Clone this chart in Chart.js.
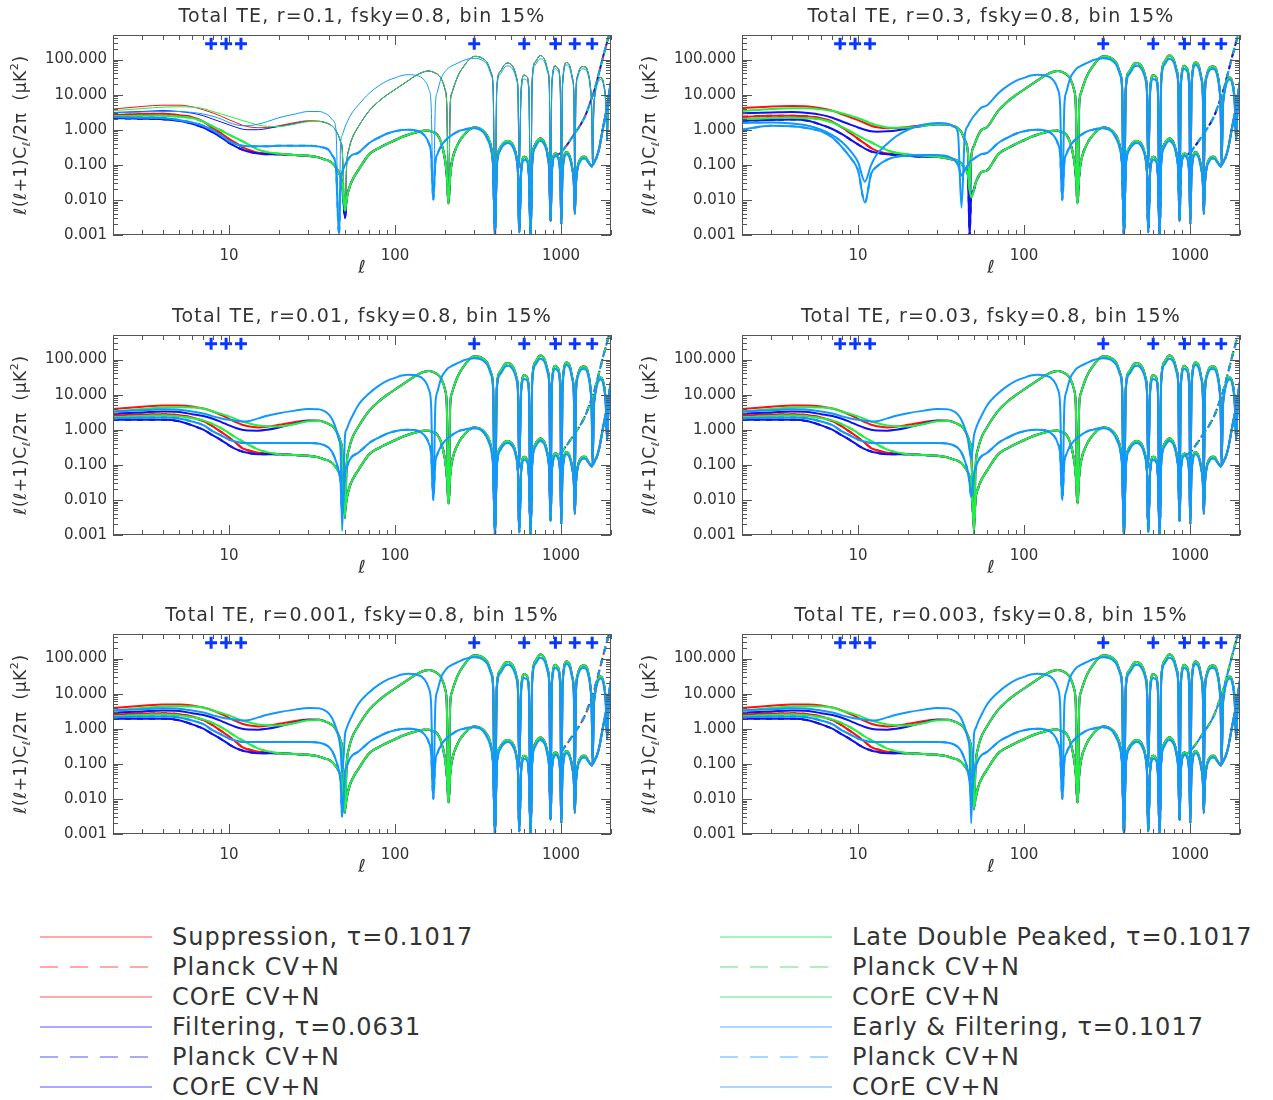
<!DOCTYPE html>
<html><head><meta charset="utf-8">
<script src="https://cdn.jsdelivr.net/npm/chart.js@4.4.1/dist/chart.umd.min.js"></script>
<style>
body{margin:0;background:#fff;width:1273px;height:1100px;position:relative;overflow:hidden;font-family:'DejaVu Sans',sans-serif;}
canvas{position:absolute;}
.lgt{position:absolute;font-size:24px;color:#333;letter-spacing:1px;line-height:30px;white-space:nowrap;}
svg{position:absolute;overflow:visible}
</style></head><body>
<script>
// ---------------- DATA ----------------
const PANEL_TITLES = [
 "Total TE, r=0.1, fsky=0.8, bin 15%",
 "Total TE, r=0.3, fsky=0.8, bin 15%",
 "Total TE, r=0.01, fsky=0.8, bin 15%",
 "Total TE, r=0.03, fsky=0.8, bin 15%",
 "Total TE, r=0.001, fsky=0.8, bin 15%",
 "Total TE, r=0.003, fsky=0.8, bin 15%"
];
const X_TICKS = [10, 100, 1000];
const X_TICK_LABELS = ["10", "100", "1000"];
const Y_TICKS = [0.001, 0.01, 0.1, 1, 10, 100];
const Y_TICK_LABELS = ["0.001", "0.010", "0.100", "1.000", "10.000", "100.000"];

// low multipoles (per panel)
const LOW_ELL = [2,3,4,5,6,7,8,9,10,11,12,13,15,17,20,25,30,35,38,40,42,44,46,47,48,50,51,53,55];

// panel r=0.1
const P1_RED_T = [3.9,4.6,5.0,5.0,4.5,3.7,3.0,2.4,1.92,1.6,1.35,1.22,1.14,1.15,1.3,1.6,1.8,1.75,1.6,1.45,1.25,0.95,0.62,0.45,0.3,0.004,0.08,0.3,0.55];
const P1_GRN_T = [3.5,4.0,4.4,4.5,4.4,4.0,3.3,2.8,2.4,2.1,1.84,1.65,1.35,1.25,1.24,1.45,1.7,1.72,1.6,1.45,1.25,0.95,0.62,0.45,0.3,0.005,0.08,0.3,0.55];
const P1_BLU_T = [3.1,3.3,3.5,3.3,2.96,2.5,2.0,1.65,1.38,1.18,1.04,1.0,1.0,1.08,1.24,1.5,1.72,1.72,1.6,1.45,1.25,0.95,0.62,0.45,0.3,0.003,0.08,0.3,0.55];
const P1_LB_T  = [3.0,3.2,3.3,3.3,3.1,2.8,2.4,2.0,1.6,1.4,1.3,1.3,1.45,1.7,2.2,2.8,3.3,3.3,2.9,2.5,1.9,1.1,0.0012,0.4,0.7,1.2,1.5,2.2,3.0];
const P1_RED_N = [2.6,2.8,2.84,2.6,2.28,1.7,1.1,0.78,0.54,0.42,0.32,0.27,0.22,0.21,0.2,0.19,0.18,0.16,0.14,0.13,0.11,0.085,0.06,0.045,0.03,0.004,0.01,0.022,0.035];
const P1_GRN_N = [2.4,2.5,2.5,2.35,2.14,1.7,1.24,0.95,0.72,0.58,0.47,0.39,0.27,0.23,0.21,0.19,0.18,0.16,0.14,0.13,0.11,0.085,0.06,0.045,0.03,0.005,0.01,0.022,0.035];
const P1_BLU_N = [2.14,2.05,2.0,1.8,1.48,1.15,0.84,0.6,0.42,0.33,0.27,0.24,0.21,0.2,0.2,0.19,0.18,0.16,0.14,0.13,0.11,0.085,0.06,0.045,0.03,0.003,0.01,0.022,0.035];
const P1_LB_N  = [2.3,2.2,2.14,1.9,1.6,1.3,0.96,0.68,0.47,0.39,0.35,0.34,0.34,0.34,0.35,0.35,0.35,0.33,0.3,0.26,0.18,0.09,0.001,0.03,0.06,0.1,0.12,0.16,0.19];

// panel r=0.3
const P2_RED_T = [4.1,4.6,4.75,4.6,4.1,3.5,2.77,2.25,1.87,1.55,1.3,1.18,1.11,1.12,1.2,1.35,1.45,1.4,1.25,1.1,0.85,0.5,0.2,0.02,0.15,0.35,0.45,0.7,0.95];
const P2_GRN_T = [3.4,3.9,4.1,4.1,3.8,3.4,2.95,2.5,2.13,1.8,1.5,1.35,1.16,1.14,1.16,1.3,1.42,1.4,1.25,1.1,0.85,0.5,0.2,0.02,0.15,0.35,0.45,0.7,0.95];
const P2_BLU_T = [2.95,3.1,3.2,3.0,2.65,2.2,1.72,1.4,1.16,1.0,0.9,0.88,0.9,0.95,1.1,1.3,1.4,1.4,1.25,1.1,0.85,0.5,0.2,0.001,0.15,0.35,0.45,0.7,0.95];
const P2_LB_T  = [1.55,1.6,1.5,1.3,1.0,0.7,0.45,0.25,0.12,0.033,0.1,0.2,0.4,0.65,1.0,1.4,1.55,1.45,1.2,0.8,0.006,0.7,1.3,1.6,1.9,2.5,2.8,3.5,4.2];
const P2_RED_N = [2.33,2.5,2.5,2.4,2.13,1.7,1.16,0.8,0.55,0.4,0.3,0.25,0.21,0.2,0.19,0.18,0.17,0.15,0.14,0.13,0.11,0.08,0.05,0.02,0.012,0.02,0.03,0.045,0.06];
const P2_GRN_N = [2.0,2.15,2.2,2.1,1.96,1.6,1.2,0.9,0.68,0.53,0.44,0.36,0.26,0.22,0.2,0.18,0.17,0.15,0.14,0.13,0.11,0.08,0.05,0.02,0.012,0.02,0.03,0.045,0.06];
const P2_BLU_N = [1.8,1.9,1.96,1.8,1.38,1.05,0.75,0.52,0.38,0.29,0.24,0.22,0.2,0.19,0.18,0.17,0.17,0.15,0.14,0.13,0.11,0.08,0.05,0.001,0.012,0.02,0.03,0.045,0.06];
const P2_LB_N  = [1.0,1.3,1.25,1.1,0.9,0.6,0.32,0.16,0.07,0.0085,0.056,0.09,0.14,0.17,0.18,0.19,0.19,0.17,0.14,0.1,0.05,0.07,0.1,0.12,0.13,0.15,0.16,0.18,0.2];

// panels with small r (0.01, 0.03, 0.001, 0.003)
const SR_RED_T = [3.9,4.5,4.9,4.9,4.6,4.0,3.3,2.6,2.05,1.65,1.38,1.25,1.16,1.22,1.38,1.65,1.84,1.8,1.6,1.45,1.25,0.95,0.62,0.45,0.3,0.003,0.08,0.3,0.55];
const SR_GRN_T = [3.3,3.9,4.3,4.4,4.3,4.0,3.3,2.8,2.4,2.0,1.72,1.55,1.33,1.26,1.24,1.45,1.75,1.78,1.6,1.45,1.25,0.95,0.62,0.45,0.3,0.003,0.08,0.3,0.55];
const SR_BLU_T = [2.85,3.1,3.3,3.2,2.77,2.45,2.05,1.65,1.33,1.12,1.0,0.95,0.94,1.0,1.16,1.5,1.8,1.8,1.6,1.45,1.25,0.95,0.62,0.45,0.3,0.003,0.08,0.3,0.55];
const SR_LB_T  = [3.3,3.6,3.8,3.7,3.3,2.9,2.4,2.1,1.92,1.8,1.72,1.75,2.1,2.5,2.96,3.5,3.9,3.8,3.3,2.7,1.9,1.1,0.5,0.25,0.0013,0.7,1.0,1.6,2.3];
const SR_RED_N = [2.55,2.7,2.77,2.6,2.23,1.75,1.24,0.85,0.6,0.42,0.3,0.26,0.22,0.21,0.2,0.19,0.18,0.16,0.14,0.13,0.11,0.085,0.06,0.045,0.03,0.005,0.01,0.022,0.035];
const SR_GRN_N = [2.23,2.45,2.55,2.4,2.14,1.85,1.45,1.1,0.8,0.6,0.47,0.38,0.27,0.23,0.2,0.19,0.18,0.16,0.14,0.13,0.11,0.085,0.06,0.045,0.03,0.005,0.01,0.022,0.035];
const SR_BLU_N = [1.92,1.92,1.92,1.75,1.33,1.0,0.69,0.5,0.36,0.28,0.24,0.22,0.2,0.2,0.2,0.19,0.18,0.16,0.14,0.13,0.11,0.085,0.06,0.045,0.03,0.005,0.01,0.022,0.035];
const SR_LB_N  = [2.14,2.2,2.23,2.1,1.72,1.35,0.9,0.68,0.52,0.46,0.42,0.42,0.42,0.42,0.42,0.42,0.42,0.4,0.35,0.3,0.22,0.13,0.06,0.03,0.004,0.06,0.08,0.13,0.17];
// depth of the first zero crossing in each small-r panel (r=0.01, 0.03, 0.001, 0.003)
const SR_DIP_LB_T  = [0.0013, 0.15, 0.05, 0.002];
const SR_DIP_LB_N  = [0.004, 0.012, 0.003, 0.01];
const SR_DIP_STD_T = [0.003, 0.001, 0.004, 0.005];
const SR_DIP_STD_N = [0.005, 0.002, 0.005, 0.006];

// high multipoles (same in all panels)
const HIGH_ELL = [60,70,80,90,100,110,120,135,150,160,165,170,175,180,190,200,205,210,215,220,240,260,280,300,320,340,360,380,390,400,410,430,460,480,500,520,540,550,560,575,600,620,640,656,670,700,750,800,830,850,865,880,925,960,990,1005,1020,1080,1130,1170,1195,1210,1230,1260,1300,1350,1400,1450,1500,1530,1550,1575,1600,1650,1700,1735,1800,1860,1895,1930,2000];
const HI_STD_T = [1.2,3.5,6.5,10,14,19,25,36,45,47, 46,44,41,38,28,14,5,0.008,5,11, 35,65,100,123,120,105,80,40,15,0.0012, 15,45,75,79,72,55,30,14,0.1,14, 36,33,15,0.003,25,85,130,95,50,18, 0.01,20,66,55,15,0.01,18,82,65,30, 10,0.03,12,35,55,63,62,45,18,4, 0.1,4,10,22,30,31,22,6,0.5,4, 15];
const HI_LB_T  = [5,11,18,25,30,35,37,35,26,14, 5,0.01,5,12,30,45,52,58,62,66, 80,95,105,108,105,92,70,35,13,0.0012, 13,38,62,66,60,45,25,11,0.08,11, 28,26,12,0.003,20,70,105,80,42,15, 0.01,16,55,46,12,0.01,15,70,55,26, 9,0.03,10,30,47,54,53,38,15,3.5, 0.1,3.5,8.5,19,26,27,19,5,0.5,3.5, 13];
const HI_STD_N = [0.07,0.2,0.3,0.4,0.5,0.62,0.72,0.85,0.94,0.93, 0.9,0.86,0.8,0.72,0.42,0.14,0.05,0.008,0.05,0.12, 0.4,0.7,1.0,1.16,1.1,0.92,0.65,0.3,0.1,0.001, 0.1,0.3,0.45,0.48,0.43,0.32,0.16,0.07,0.0012,0.07, 0.17,0.15,0.06,0.001,0.12,0.38,0.56,0.4,0.2,0.07, 0.0025,0.07,0.21,0.17,0.05,0.002,0.06,0.23,0.17,0.08, 0.03,0.004,0.03,0.09,0.14,0.17,0.17,0.13,0.1,0.09, 0.1,0.11,0.13,0.18,0.3,0.5,1.3,2.8,4.5,8, 24];
const HI_LB_N  = [0.22,0.42,0.6,0.78,0.9,0.98,1.0,0.95,0.7,0.4, 0.2,0.01,0.12,0.2,0.35,0.48,0.54,0.6,0.65,0.7, 0.9,1.0,1.08,1.1,1.05,0.85,0.55,0.25,0.08,0.001, 0.08,0.26,0.4,0.42,0.38,0.28,0.14,0.06,0.0012,0.06, 0.14,0.13,0.05,0.001,0.1,0.32,0.48,0.35,0.17,0.06, 0.0025,0.06,0.18,0.15,0.04,0.002,0.05,0.2,0.15,0.07, 0.03,0.004,0.03,0.08,0.12,0.15,0.15,0.12,0.1,0.09, 0.1,0.11,0.13,0.18,0.3,0.5,1.3,2.8,4.5,8, 24];
// Planck CV+N departs from the COrE curve above l~960
const PLANCK_ELL = [960,1000,1050,1100,1150,1200,1300,1400,1500,1600,1700,1800,1900,2000];
const PLANCK_VAL = [0.2,0.22,0.3,0.4,0.55,0.75,1.3,2.5,6,15,45,130,330,800];

// '+' markers
const MARK_ELL = [7.8, 9.6, 11.8, 300, 600, 925, 1210, 1540];
const MARK_VAL = [280, 280, 280, 280, 280, 280, 280, 280];

// legend
const LEGEND_LEFT = ["Suppression, \u03c4=0.1017", "Planck CV+N", "COrE CV+N", "Filtering, \u03c4=0.0631", "Planck CV+N", "COrE CV+N"];
const LEGEND_RIGHT = ["Late Double Peaked, \u03c4=0.1017", "Planck CV+N", "COrE CV+N", "Early & Filtering, \u03c4=0.1017", "Planck CV+N", "COrE CV+N"];

// ---------------- STYLE ----------------
const COL = {red:'#ff1010', blue:'#1010f0', green:'#20f040', lb:'#1098ff'};
const LEG_COL = {red:'#ff8c8c', blue:'#8c8cff', green:'#8cf0a8', lb:'#8ccaff'};
const THEORY_W = [1, 2, 2, 2, 2, 2];
const FONT = "'DejaVu Sans', sans-serif";

function pts(ell, val){ return ell.map((l,i)=>({x:l, y:val[i]})); }
function withDip(arr, idx, v){ const c = arr.slice(); c[idx] = v; return c; }

function lowFor(p){
  if (p === 0) return {red:[P1_RED_T,P1_RED_N], blue:[P1_BLU_T,P1_BLU_N], green:[P1_GRN_T,P1_GRN_N], lb:[P1_LB_T,P1_LB_N]};
  if (p === 1) return {red:[P2_RED_T,P2_RED_N], blue:[P2_BLU_T,P2_BLU_N], green:[P2_GRN_T,P2_GRN_N], lb:[P2_LB_T,P2_LB_N]};
  const k = p - 2, iS = LOW_ELL.indexOf(50), iL = LOW_ELL.indexOf(48);
  return {
    red:[withDip(SR_RED_T,iS,SR_DIP_STD_T[k]), withDip(SR_RED_N,iS,SR_DIP_STD_N[k])],
    blue:[withDip(SR_BLU_T,iS,SR_DIP_STD_T[k]), withDip(SR_BLU_N,iS,SR_DIP_STD_N[k])],
    green:[withDip(SR_GRN_T,iS,SR_DIP_STD_T[k]), withDip(SR_GRN_N,iS,SR_DIP_STD_N[k])],
    lb:[withDip(SR_LB_T,iL,SR_DIP_LB_T[k]), withDip(SR_LB_N,iL,SR_DIP_LB_N[k])]
  };
}

const framePlugin = {
  id:'frame',
  afterDatasetsDraw(chart){
    const {ctx, chartArea:a, scales:{x,y}} = chart;
    ctx.save();
    ctx.strokeStyle = '#555'; ctx.lineWidth = 1;
    ctx.strokeRect(Math.round(a.left)+0.5, Math.round(a.top)+0.5, Math.round(a.right-a.left)-1, Math.round(a.bottom-a.top)-1);
    ctx.beginPath();
    for (let e=-3; e<=2; e++) for (let m=1; m<=9; m++){
      const v = m*Math.pow(10,e); if (v > 500) continue;
      const py = Math.round(y.getPixelForValue(v))+0.5, L = m===1?10:5;
      ctx.moveTo(a.left, py); ctx.lineTo(a.left+L, py);
      ctx.moveTo(a.right, py); ctx.lineTo(a.right-L, py);
    }
    for (let e=0; e<=3; e++) for (let m=1; m<=9; m++){
      const v = m*Math.pow(10,e); if (v < 2 || v > 2000) continue;
      const px = Math.round(x.getPixelForValue(v))+0.5, L = m===1?10:5;
      ctx.moveTo(px, a.bottom); ctx.lineTo(px, a.bottom-L);
      ctx.moveTo(px, a.top); ctx.lineTo(px, a.top+L);
    }
    ctx.stroke();
    ctx.restore();
  },
  afterDraw(chart, args, opts){
    const {ctx, chartArea:a} = chart;
    const cx = (a.left+a.right)/2;
    ctx.save();
    ctx.fillStyle = '#333';
    ctx.textAlign = 'center'; ctx.textBaseline = 'middle';
    try { ctx.letterSpacing = '1.2px'; } catch(e){}
    ctx.font = "19px " + FONT;
    ctx.fillText(opts.title, cx, a.top - 18);
    try { ctx.letterSpacing = '0px'; } catch(e){}
    ctx.font = "italic 18px " + FONT;
    ctx.fillText("\u2113", cx, a.bottom + 33);
    // y title
    const parts = [
      {t:"\u2113(\u2113+1)C", s:17, dy:0},
      {t:"\u2113", s:11, dy:5},
      {t:"/2\u03c0  (\u03bcK", s:17, dy:0},
      {t:"2", s:11, dy:-7},
      {t:")", s:17, dy:0}
    ];
    try { ctx.letterSpacing = '0.6px'; } catch(e){}
    let tot = 0;
    parts.forEach(p => { ctx.font = p.s + "px " + FONT; p.w = ctx.measureText(p.t).width; tot += p.w; });
    ctx.translate(22, (a.top+a.bottom)/2);
    ctx.rotate(-Math.PI/2);
    ctx.textAlign = 'left';
    let xx = -tot/2;
    parts.forEach(p => { ctx.font = p.s + "px " + FONT; ctx.fillText(p.t, xx, p.dy); xx += p.w; });
    ctx.restore();
  }
};

function makeChart(p){
  const col = p % 2, row = Math.floor(p / 2);
  const cv = document.createElement('canvas');
  cv.width = 630; cv.height = 290;
  cv.style.left = (col === 0 ? 0 : 629) + 'px';
  cv.style.top = [0, 300, 599][row] + 'px';
  document.body.appendChild(cv);
  const low = lowFor(p);
  const hi = {red:[HI_STD_T,HI_STD_N], blue:[HI_STD_T,HI_STD_N], green:[HI_STD_T,HI_STD_N], lb:[HI_LB_T,HI_LB_N]};
  const order = {lb:1, green:2, blue:3, red:4};
  const datasets = [{
    data: pts(MARK_ELL, MARK_VAL), showLine:false, pointStyle:'cross', pointRadius:6,
    borderColor:'#0636ff', backgroundColor:'#0636ff', pointBorderWidth:3, order:0, clip:false
  }];
  ['lb','green','blue','red'].forEach(m => {
    const th = pts(LOW_ELL, low[m][0]).concat(pts(HIGH_ELL, hi[m][0]));
    const nz = pts(LOW_ELL, low[m][1]).concat(pts(HIGH_ELL, hi[m][1]));
    const pl = nz.filter(d => d.x < PLANCK_ELL[0]).concat(pts(PLANCK_ELL, PLANCK_VAL));
    const base = {pointRadius:0, fill:false, cubicInterpolationMode:'monotone', borderColor:COL[m], order:order[m]};
    datasets.push(Object.assign({}, base, {data:pl, borderWidth:2, borderDash:[6,6]}));
    datasets.push(Object.assign({}, base, {data:nz, borderWidth:2}));
    datasets.push(Object.assign({}, base, {data:th, borderWidth:THEORY_W[p]}));
  });
  new Chart(cv, {
    type:'line',
    data:{datasets},
    options:{
      responsive:false, animation:false, devicePixelRatio:1, parsing:true,
      layout:{padding:{left:0, top:35, right:19, bottom:0}},
      plugins:{legend:{display:false}, tooltip:{enabled:false}, frame:{title:PANEL_TITLES[p]}},
      scales:{
        x:{type:'logarithmic', min:2, max:2000,
           grid:{display:false, drawTicks:false}, border:{display:false},
           afterBuildTicks:s => { s.ticks = X_TICKS.map(v => ({value:v})); },
           ticks:{autoSkip:false, maxRotation:0, padding:12, color:'#333', font:{family:FONT, size:15},
                  callback:(v,i) => X_TICK_LABELS[i]},
           afterFit:s => { s.height = 55; }},
        y:{type:'logarithmic', min:0.001, max:500,
           grid:{display:false, drawTicks:false}, border:{display:false},
           afterBuildTicks:s => { s.ticks = Y_TICKS.map(v => ({value:v})); },
           ticks:{autoSkip:false, padding:6, color:'#333', font:{family:FONT, size:15},
                  callback:(v,i) => Y_TICK_LABELS[i]},
           afterFit:s => { s.width = 113; }}
      }
    },
    plugins:[framePlugin]
  });
}
for (let p = 0; p < 6; p++) makeChart(p);

// legend
const LEG_ROWS_Y = [937, 967, 997, 1027, 1057, 1087];
const LEG_MODELS = [['red','red','red','blue','blue','blue'], ['green','green','green','lb','lb','lb']];
const LEG_DASH = [false, true, false, false, true, false];
[[LEGEND_LEFT, 40, 152, 172], [LEGEND_RIGHT, 720, 832, 852]].forEach((cfg, c) => {
  const [labels, x0, x1, tx] = cfg;
  labels.forEach((lab, i) => {
    const y = LEG_ROWS_Y[i];
    const s = document.createElementNS('http://www.w3.org/2000/svg','svg');
    s.setAttribute('width','1273'); s.setAttribute('height','4');
    s.style.left = '0px'; s.style.top = (y-2) + 'px';
    const ln = document.createElementNS('http://www.w3.org/2000/svg','line');
    ln.setAttribute('x1', x0); ln.setAttribute('x2', x1); ln.setAttribute('y1', 2); ln.setAttribute('y2', 2);
    ln.setAttribute('stroke', LEG_COL[LEG_MODELS[c][i]]); ln.setAttribute('stroke-width', '1.5');
    if (LEG_DASH[i]) ln.setAttribute('stroke-dasharray', '18 12');
    s.appendChild(ln); document.body.appendChild(s);
    const d = document.createElement('div');
    d.className = 'lgt'; d.textContent = lab;
    d.style.left = tx + 'px'; d.style.top = (y - 15) + 'px';
    document.body.appendChild(d);
  });
});
</script>
</body></html>
